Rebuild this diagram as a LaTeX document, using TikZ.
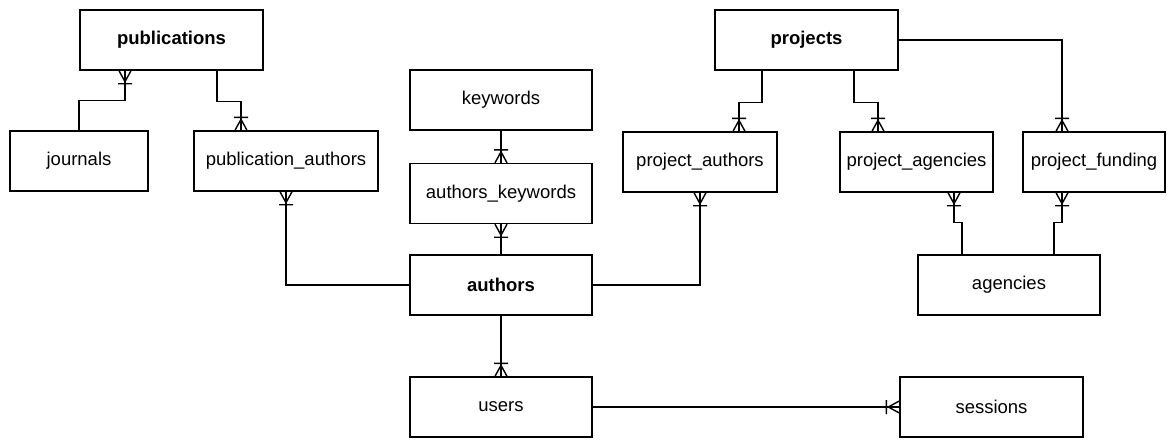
\documentclass[tikz,border=0pt]{standalone}
\usepackage{fontspec}
\setmainfont{Liberation Sans}
\usetikzlibrary{decorations.markings}

\begin{document}
\begin{tikzpicture}[x=1pt, y=-1pt,
  entity/.style={draw, line width=1.4pt, fill=white, minimum height=60pt,
    inner sep=0pt, font=\fontsize{18.5}{22}\selectfont},
  rel/.style={draw, line width=1.4pt},
  onemany/.style={rel, postaction={decorate},
    decoration={markings, mark=at position 1 with {
      \draw[line width=1.4pt] (-11,0) -- (0,6) (-11,0) -- (0,-6) (-13,-7) -- (-13,7);}}}
]
\useasboundingbox (0,0) rectangle (1175,439);

% entities
\node[entity, minimum width=183pt] (publications) at (171.5,40) {\bfseries publications};
\node[entity, minimum width=138pt] (journals) at (79,161) {journals};
\node[entity, minimum width=184pt] (pubauthors) at (286,161) {publication\_authors};
\node[entity, minimum width=182pt] (keywords) at (501,100) {keywords};
\node[entity, minimum width=182pt] (authkeywords) at (501,193.5) {authors\_keywords};
\node[entity, minimum width=182pt] (authors) at (501,285) {\bfseries authors};
\node[entity, minimum width=182pt] (users) at (501,407) {users};
\node[entity, minimum width=183pt] (projects) at (806.5,40) {\bfseries projects};
\node[entity, minimum width=154pt] (projauthors) at (700,162) {project\_authors};
\node[entity, minimum width=153pt] (projagencies) at (916.5,162) {project\_agencies};
\node[entity, minimum width=142pt] (projfunding) at (1094,162) {project\_funding};
\node[entity, minimum width=182pt] (agencies) at (1009,285) {agencies};
\node[entity, minimum width=183pt] (sessions) at (991.5,407) {sessions};

% relationships (crow's foot at the end of each path)
\draw[onemany] (journals.north) -- ++(0,-30) -| ([xshift=-46.5pt]publications.south);
\draw[onemany] ([xshift=45.5pt]publications.south) -- ++(0,31) -| ([xshift=-45pt]pubauthors.north);
\draw[onemany] (keywords.south) -- (authkeywords.north);
\draw[onemany] (authors.north) -- (authkeywords.south);
\draw[onemany] (authors.west) -| (pubauthors.south);
\draw[onemany] (authors.east) -| (projauthors.south);
\draw[onemany] ([xshift=-44.5pt]projects.south) -- ++(0,32) -| ([xshift=39pt]projauthors.north);
\draw[onemany] ([xshift=47.5pt]projects.south) -- ++(0,32) -| ([xshift=-38.5pt]projagencies.north);
\draw[onemany] (projects.east) -| ([xshift=-32pt]projfunding.north);
\draw[onemany] ([xshift=-47pt]agencies.north) -- ++(0,-32) -| ([xshift=37.5pt]projagencies.south);
\draw[onemany] ([xshift=45pt]agencies.north) -- ++(0,-32) -| ([xshift=-32pt]projfunding.south);
\draw[onemany] (authors.south) -- (users.north);
\draw[onemany] (users.east) -- (sessions.west);
\end{tikzpicture}
\end{document}
